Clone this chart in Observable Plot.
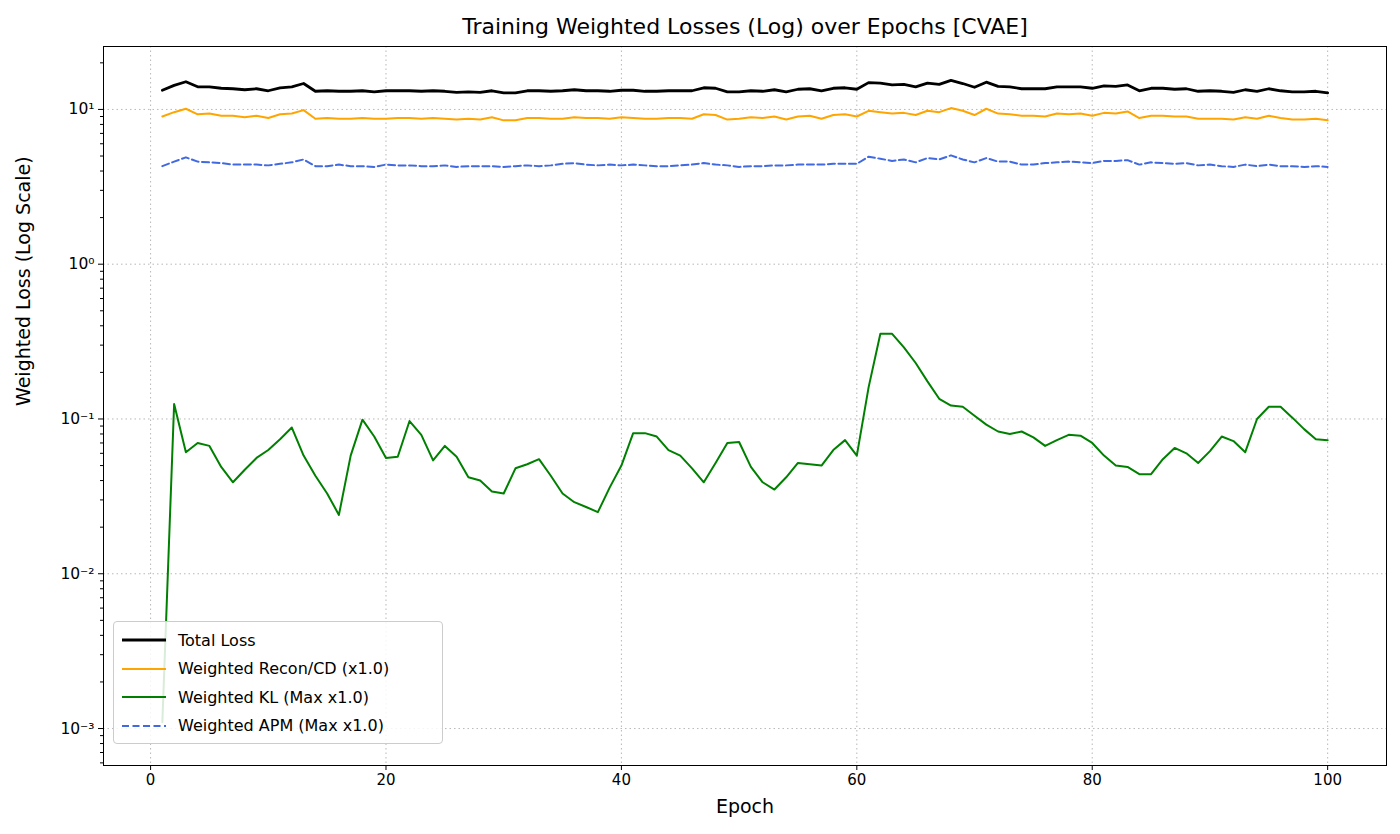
<!DOCTYPE html>
<html><head><meta charset="utf-8">
<script src="https://cdn.jsdelivr.net/npm/d3@7"></script>
<script src="https://cdn.jsdelivr.net/npm/@observablehq/plot@0.6"></script>
<style>
body{margin:0;background:#fff;font-family:"DejaVu Sans",sans-serif;}
#wrap{position:relative;width:1400px;height:834px;}
#title{height:40px;line-height:54px;text-align:center;font-size:22px;padding-left:90px;box-sizing:border-box;}
#legend{position:absolute;left:113px;top:621px;width:330px;height:123px;border:1px solid #ccc;border-radius:4px;background:rgba(255,255,255,0.85);font-size:16px;box-sizing:border-box;padding:4px 8px;}
.row{display:flex;align-items:center;height:28.5px;}
.row svg{margin-right:12px;}
</style></head><body>
<div id="wrap">
<div id="title">Training Weighted Losses (Log) over Epochs [CVAE]</div>
<div id="chart"></div>
<div id="legend"></div>
</div>
<script>
const epochs = d3.range(1, 101);
const total = [13.3,14.3,15.1,14.0,14.0,13.7,13.6,13.4,13.6,13.2,13.8,14.0,14.7,13.1,13.2,13.1,13.1,13.2,13.0,13.2,13.2,13.2,13.1,13.2,13.1,12.9,13.0,12.9,13.2,12.8,12.8,13.2,13.2,13.1,13.2,13.4,13.2,13.2,13.1,13.3,13.3,13.1,13.1,13.2,13.2,13.2,13.8,13.7,13.0,13.0,13.2,13.1,13.4,13.0,13.5,13.6,13.2,13.7,13.8,13.5,14.9,14.8,14.4,14.5,14.0,14.8,14.5,15.4,14.7,13.9,15.0,14.1,14.0,13.6,13.6,13.6,14.0,14.0,14.0,13.7,14.2,14.1,14.4,13.2,13.7,13.7,13.5,13.6,13.1,13.2,13.1,12.9,13.4,13.1,13.6,13.2,13.0,13.0,13.1,12.8];
const recon = [9.0,9.6,10.1,9.3,9.4,9.1,9.1,8.9,9.1,8.8,9.3,9.4,9.9,8.7,8.8,8.7,8.7,8.8,8.7,8.7,8.8,8.8,8.7,8.8,8.7,8.6,8.7,8.6,8.9,8.5,8.5,8.8,8.8,8.7,8.7,8.9,8.8,8.8,8.7,8.9,8.8,8.7,8.7,8.8,8.8,8.7,9.3,9.2,8.6,8.7,8.9,8.8,9.0,8.6,9.0,9.1,8.7,9.2,9.3,9.0,9.8,9.6,9.4,9.5,9.2,9.8,9.6,10.2,9.8,9.2,10.1,9.4,9.3,9.1,9.1,9.0,9.4,9.3,9.4,9.1,9.5,9.4,9.7,8.8,9.1,9.1,9.0,9.0,8.7,8.7,8.7,8.6,8.9,8.7,9.1,8.8,8.6,8.6,8.7,8.5];
const kl = [0.0011,0.125,0.061,0.07,0.067,0.049,0.039,0.047,0.056,0.063,0.074,0.088,0.058,0.043,0.033,0.024,0.058,0.099,0.077,0.056,0.057,0.097,0.079,0.054,0.067,0.057,0.042,0.040,0.034,0.033,0.048,0.051,0.055,0.043,0.033,0.029,0.027,0.025,0.036,0.050,0.081,0.081,0.077,0.063,0.058,0.048,0.039,0.052,0.070,0.071,0.049,0.039,0.035,0.042,0.052,0.051,0.050,0.063,0.073,0.058,0.16,0.355,0.355,0.29,0.23,0.175,0.135,0.122,0.12,0.105,0.092,0.083,0.08,0.083,0.076,0.067,0.073,0.079,0.078,0.07,0.058,0.05,0.049,0.044,0.044,0.055,0.065,0.06,0.052,0.062,0.077,0.072,0.061,0.1,0.12,0.12,0.102,0.086,0.074,0.073];
const apm = [4.3,4.6,4.9,4.6,4.55,4.5,4.4,4.4,4.4,4.35,4.45,4.55,4.75,4.3,4.3,4.4,4.3,4.3,4.25,4.4,4.35,4.35,4.3,4.3,4.35,4.25,4.3,4.3,4.3,4.25,4.3,4.35,4.3,4.35,4.45,4.5,4.4,4.35,4.4,4.35,4.4,4.35,4.3,4.3,4.35,4.4,4.5,4.4,4.35,4.25,4.3,4.3,4.35,4.35,4.4,4.4,4.4,4.45,4.45,4.45,4.95,4.8,4.65,4.75,4.55,4.85,4.75,5.05,4.75,4.55,4.85,4.6,4.6,4.4,4.4,4.5,4.55,4.6,4.55,4.5,4.65,4.65,4.7,4.4,4.55,4.5,4.45,4.5,4.35,4.4,4.3,4.25,4.4,4.3,4.4,4.3,4.3,4.25,4.3,4.25];
const xTicks = [0,20,40,60,80,100];
const yTicks = [1e-3,1e-2,1e-1,1,10];
const yTickLabels = ["10⁻³","10⁻²","10⁻¹","10⁰","10¹"];
const series = [
  {name:"Total Loss", values: total, color:"#000000", width:2.8, dash:null},
  {name:"Weighted Recon/CD (x1.0)", values: recon, color:"#FFA500", width:2, dash:null},
  {name:"Weighted KL (Max x1.0)", values: kl, color:"#008000", width:2, dash:null},
  {name:"Weighted APM (Max x1.0)", values: apm, color:"#4169E1", width:2, dash:"7,3.5"}
];
const minor = [];
for (let e=-4;e<=1;e++) for (let m=2;m<=9;m++){const v=m*10**e; if(v>5.8e-4&&v<25) minor.push(v);}

const marks = [
  Plot.gridX(xTicks,{stroke:"#b0b0b0",strokeOpacity:1,strokeDasharray:"1.5,3",strokeWidth:0.9}),
  Plot.gridY(yTicks,{stroke:"#b0b0b0",strokeOpacity:1,strokeDasharray:"1.5,3",strokeWidth:0.9}),
  Plot.axisX({ticks:xTicks,tickSize:5,fontSize:15,tickPadding:4,label:null}),
  Plot.axisY({ticks:yTicks,tickSize:5,fontSize:15.5,tickFormat:(d)=>yTickLabels[yTicks.indexOf(d)],label:null}),
  Plot.axisY({ticks:minor,tickSize:3,tickFormat:()=>"",label:null}),
  Plot.frame({stroke:"#000"})
];
for (const s of series) {
  marks.push(Plot.line(epochs.map((e,i)=>({x:e,y:s.values[i]})),{x:"x",y:"y",stroke:s.color,strokeWidth:s.width,strokeDasharray:s.dash}));
}
marks.push(Plot.text(["Epoch"],{frameAnchor:"bottom",dy:47,fontSize:19}));
marks.push(Plot.text(["Weighted Loss (Log Scale)"],{frameAnchor:"left",dx:-80,rotate:-90,fontSize:19}));
const chart = Plot.plot({
  width:1400,height:794,marginTop:6,marginBottom:69,marginLeft:103,marginRight:14,
  style:{fontFamily:"DejaVu Sans",color:"#000"},
  x:{domain:[-4,105]},
  y:{type:"log",domain:[5.77e-4,25.5]},
  marks
});
document.getElementById("chart").appendChild(chart);
const lg = document.getElementById("legend");
for (const s of series){
  const r=document.createElement("div");r.className="row";
  r.innerHTML=`<svg width="44" height="10"><line x1="0" x2="44" y1="5" y2="5" stroke="${s.color}" stroke-width="${s.width}" ${s.dash?`stroke-dasharray="${s.dash}"`:""}/></svg><span>${s.name}</span>`;
  lg.appendChild(r);
}
</script></body></html>
